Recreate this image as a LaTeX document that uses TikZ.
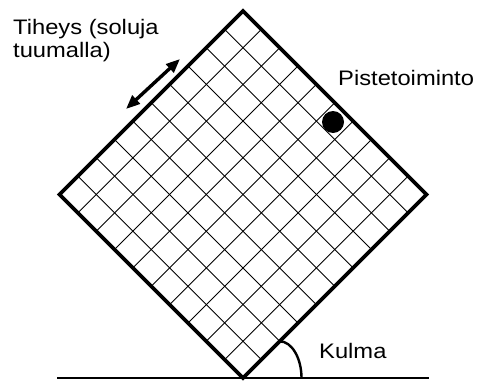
\documentclass[tikz,border=0pt]{standalone}
\usepackage{fontspec}
\setmainfont{Liberation Sans}
\newfontfamily\widesans{Liberation Sans}[FakeStretch=1.13]
\usetikzlibrary{calc,arrows.meta}
\begin{document}
\begin{tikzpicture}[x=1pt,y=-1pt,
  gridline/.style={line width=0.9pt},
  frame/.style={line width=3.6pt,line join=miter},
  lbl/.style={font=\widesans\fontsize{21}{23.5}\selectfont,inner sep=0pt}]
\useasboundingbox (0,0) rectangle (479,380);
\coordinate (T) at (243,11);
\coordinate (R) at (426.5,194.5);
\coordinate (B) at (243,378);
\coordinate (L) at (59.5,194.5);
\foreach \i in {1,...,9}{
  \draw[gridline] ($(T)!\i/10!(L)$) -- ($(R)!\i/10!(B)$);
  \draw[gridline] ($(T)!\i/10!(R)$) -- ($(L)!\i/10!(B)$);
}
\draw[frame] (T) -- (R) -- (B) -- (L) -- cycle;
\coordinate (g1) at (57,378);
\coordinate (g2) at (429,378);
\draw[line width=2.2pt] (g1) -- (g2);
\coordinate (a0) at ($(B)!0.2!(R)$);
\coordinate (a1) at (301.5,378);
\draw[line width=2.4pt] (a0) .. controls ($(a0)+(12,0)$) and ($(a1)+(0,-20)$) .. (a1);
\fill (333,122) circle (11);
\coordinate (d1) at (126,109);
\coordinate (d2) at (180,59);
\draw[line width=3.4pt,{Triangle[length=14pt,width=11pt]}-{Triangle[length=14pt,width=11pt]}] (d1) -- (d2);
\node[lbl,anchor=base west,align=left] (tih) at (13,57.5) {Tiheys (soluja\\tuumalla)};
\node[lbl,anchor=base west] (pis) at (338,85) {Pistetoiminto};
\node[lbl,anchor=base west] (kul) at (319,358) {Kulma};
\end{tikzpicture}
\end{document}
